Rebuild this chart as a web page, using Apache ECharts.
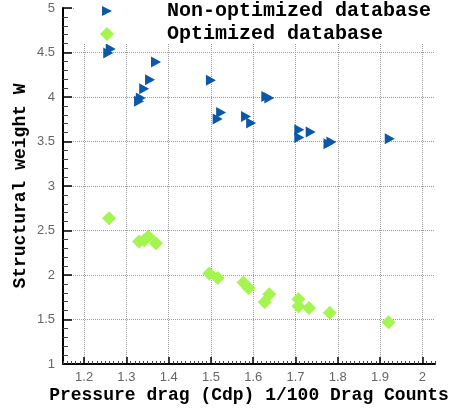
<!DOCTYPE html>
<html>
<head>
<meta charset="utf-8">
<script src="https://cdn.jsdelivr.net/npm/echarts@6/dist/echarts.min.js"></script>
<style>
html,body{margin:0;padding:0;background:#fff;}
#chart{width:454px;height:408px;}
</style>
</head>
<body>
<div id="chart"></div>
<script>
var seriesNames = ['Non-optimized database', 'Optimized database'];
var nonOptX = [1.263, 1.257, 1.370, 1.356, 1.342, 1.334, 1.330, 1.500, 1.524, 1.516, 1.583, 1.595, 1.631, 1.638, 1.709, 1.709, 1.736, 1.785, 1.778, 1.923];
var nonOptY = [4.54, 4.495, 4.394, 4.195, 4.093, 3.989, 3.951, 4.187, 3.827, 3.752, 3.782, 3.708, 4.007, 3.989, 3.632, 3.546, 3.606, 3.494, 3.475, 3.531];
var optX = [1.259, 1.330, 1.342, 1.352, 1.370, 1.496, 1.516, 1.577, 1.589, 1.638, 1.627, 1.707, 1.707, 1.732, 1.781, 1.920];
var optY = [2.639, 2.376, 2.39, 2.432, 2.358, 2.016, 1.967, 1.915, 1.855, 1.784, 1.697, 1.728, 1.649, 1.630, 1.577, 1.469];
var xMajorTicks = [1.2, 1.3, 1.4, 1.5, 1.6, 1.7, 1.8, 1.9, 2.0];
var xMinorTicks = [];
for (var i = 115; i <= 203; i++) { if (i % 10 !== 0) xMinorTicks.push(i / 100); }
var xRange = [1.15, 2.03];
var yRange = [1, 5];
var yInterval = 0.5;

function pairs(xs, ys) { return xs.map(function (x, i) { return [x, ys[i]]; }); }

var labelStyle = { fontFamily: 'Liberation Sans', fontSize: 13, color: '#666' };
var titleStyle = { fontFamily: 'Liberation Mono', fontWeight: 'bold', fontSize: 18, color: '#000' };
var legendText = { fontFamily: 'Liberation Mono', fontWeight: 'bold', fontSize: 20, color: '#000', lineHeight: 20 };

var chart = echarts.init(document.getElementById('chart'));
chart.setOption({
  animation: false,
  backgroundColor: '#fff',
  grid: { left: 63, right: 19, top: 8, bottom: 44, outerBoundsMode: 'none', containLabel: false },
  legend: [{
    orient: 'vertical',
    left: 75, top: 0,
    backgroundColor: '#fff',
    padding: [1, 21, 2, 27],
    itemWidth: 10, itemHeight: 10,
    textStyle: Object.assign({ padding: [0, 0, 0, 50] }, legendText),
    data: [seriesNames[0]]
  }, {
    orient: 'vertical',
    left: 75, top: 23,
    backgroundColor: '#fff',
    padding: [1, 71, 0, 25],
    itemWidth: 14, itemHeight: 14,
    textStyle: Object.assign({ padding: [0, 0, 0, 48] }, legendText),
    data: [seriesNames[1]]
  }],
  xAxis: [{
    type: 'value', min: xRange[0], max: xRange[1],
    name: 'Pressure drag (Cdp) 1/100 Drag Counts',
    nameLocation: 'middle', nameGap: 22, nameMoveOverlap: false, nameTextStyle: titleStyle,
    axisLine: { show: true, onZero: false, lineStyle: { color: '#000', width: 2 } },
    axisTick: { show: true, inside: true, length: 7, customValues: xMajorTicks, lineStyle: { color: '#000', width: 1.5 } },
    axisLabel: Object.assign({ customValues: xMajorTicks, margin: 7, formatter: function (v) { return String(+v.toFixed(1)); } }, labelStyle),
    splitLine: { show: true, lineStyle: { color: '#999', type: 'dotted', width: 1 } }
  }, {
    type: 'value', min: xRange[0], max: xRange[1], position: 'bottom',
    axisLine: { show: false },
    axisTick: { show: true, inside: true, length: 3, customValues: xMinorTicks, lineStyle: { color: '#444', width: 1 } },
    axisLabel: { show: false },
    splitLine: { show: false }
  }],
  yAxis: {
    type: 'value', min: yRange[0], max: yRange[1], interval: yInterval,
    name: 'Structural weight W',
    nameLocation: 'middle', nameGap: 34, nameRotate: 90, nameMoveOverlap: false, nameTextStyle: titleStyle,
    axisLine: { show: true, onZero: false, lineStyle: { color: '#000', width: 2 } },
    axisTick: { show: true, inside: true, length: 9, lineStyle: { color: '#000', width: 1.5 } },
    minorTick: { show: true, splitNumber: 5, length: 5, lineStyle: { color: '#444', width: 1 } },
    axisLabel: Object.assign({ margin: 8 }, labelStyle),
    splitLine: { show: true, lineStyle: { color: '#999', type: 'dotted', width: 1 } }
  },
  series: [{
    name: seriesNames[0], type: 'scatter', xAxisIndex: 0,
    symbol: 'path://M0,0 L10,5 L0,10 Z', symbolSize: [10, 11],
    itemStyle: { color: '#0b58a8', opacity: 1 },
    data: pairs(nonOptX, nonOptY)
  }, {
    name: seriesNames[1], type: 'scatter', xAxisIndex: 0,
    symbol: 'diamond', symbolSize: [14, 14],
    itemStyle: { color: '#a5f550', opacity: 1 },
    data: pairs(optX, optY)
  }]
});
</script>
</body>
</html>
